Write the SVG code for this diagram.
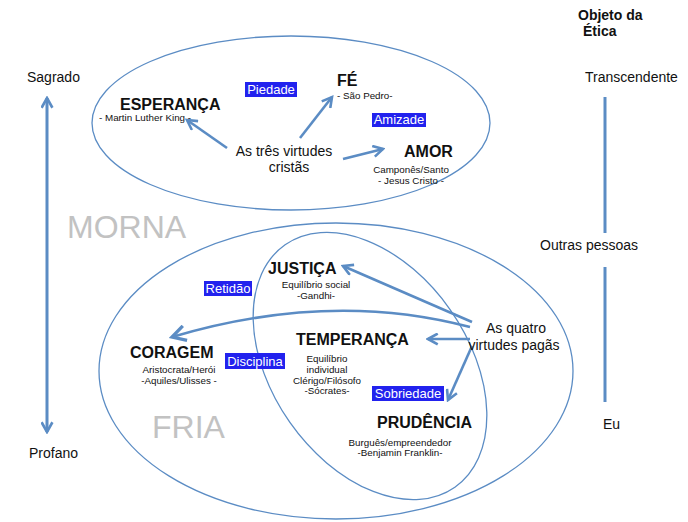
<svg xmlns="http://www.w3.org/2000/svg" width="688" height="522" viewBox="0 0 688 522">
<defs>
<style>
text{font-family:"Liberation Sans",Arial,sans-serif;fill:#111}
.t{font-size:14px}
.h{font-size:16px;font-weight:bold}
.s{font-size:9.8px}
.big{font-size:32px;fill:#c2c2c2}
.lb rect{fill:#2222ee}
.lb text{font-size:13px;fill:#fff}
.ell{fill:none;stroke:#5b8cc4;stroke-width:1.3}
.ar{fill:none;stroke:#5b8cc4;stroke-width:2.6;marker-end:url(#ah)}
.vl{fill:none;stroke:#5b8cc4;stroke-width:3}
</style>
<marker id="ah" viewBox="0 0 12 12" refX="10" refY="6" markerWidth="13" markerHeight="13" markerUnits="userSpaceOnUse" orient="auto">
<path d="M1,1 L10,6 L1,11" fill="none" stroke="#5b8cc4" stroke-width="2.4" stroke-linejoin="miter"/>
</marker>
<marker id="ah2" viewBox="0 0 12 12" refX="10" refY="6" markerWidth="18" markerHeight="18" markerUnits="userSpaceOnUse" orient="auto">
<path d="M1,1 L10,6 L1,11" fill="none" stroke="#5b8cc4" stroke-width="2.2"/>
</marker>
<marker id="ahs" viewBox="0 0 12 12" refX="10" refY="6" markerWidth="13" markerHeight="13" markerUnits="userSpaceOnUse" orient="auto-start-reverse">
<path d="M1,1 L10,6 L1,11" fill="none" stroke="#5b8cc4" stroke-width="2.4"/>
</marker>
</defs>
<rect width="688" height="522" fill="#fff"/>

<g id="shapes">
<ellipse class="ell" cx="291" cy="123" rx="199" ry="87"/>
<ellipse class="ell" cx="336" cy="371" rx="237" ry="148"/>
<ellipse class="ell" cx="370" cy="366" rx="148" ry="98" transform="rotate(55 370 366)"/>
</g>

<g id="connectors">
<line class="ar" x1="227" y1="148" x2="187" y2="120"/>
<line class="ar" x1="300" y1="138" x2="332" y2="97"/>
<line class="ar" x1="343" y1="159" x2="383" y2="149"/>
<line class="ar" x1="472" y1="322" x2="343" y2="266"/>
<path class="ar" d="M470,327 Q330,290 172,337" style="marker-end:url(#ah2)"/>
<line class="ar" x1="470" y1="339" x2="428" y2="339"/>
<line class="ar" x1="472" y1="346" x2="448" y2="400"/>
<line class="vl" x1="47" y1="98" x2="47" y2="432" style="marker-start:url(#ahs);marker-end:url(#ahs)"/>
<line class="vl" x1="605" y1="97" x2="605" y2="233"/>
<line class="vl" x1="605" y1="267" x2="605" y2="402"/>
</g>

<g id="axis">
<text class="t" x="578" y="20" style="font-weight:bold">Objeto da</text>
<text class="t" x="583" y="36" style="font-weight:bold">Ética</text>
<text class="t" x="585" y="82">Transcendente</text>
<text class="t" x="540" y="250">Outras pessoas</text>
<text class="t" x="603" y="429">Eu</text>
<text class="t" x="27" y="82">Sagrado</text>
<text class="t" x="29" y="458">Profano</text>
<text class="big" x="67" y="238">MORNA</text>
<text class="big" x="152" y="438">FRIA</text>
</g>

<g id="esperanca">
<text class="h" x="120" y="110">ESPERANÇA</text>
<text class="s" x="99" y="121">- Martin Luther King -</text>
</g>
<g id="fe">
<text class="h" x="337" y="86">FÉ</text>
<text class="s" x="337" y="99">- São Pedro-</text>
</g>
<g id="amor">
<text class="h" x="404" y="157">AMOR</text>
<text class="s" x="411" y="173" text-anchor="middle">Camponês/Santo</text>
<text class="s" x="411" y="184" text-anchor="middle">- Jesus Cristo -</text>
</g>
<g id="crista">
<text class="t" x="284" y="156" text-anchor="middle">As três virtudes</text>
<text class="t" x="289" y="172" text-anchor="middle">cristãs</text>
</g>
<g id="piedade" class="lb"><rect x="245" y="82" width="52" height="15"/><text x="271" y="94" text-anchor="middle">Piedade</text></g>
<g id="amizade" class="lb"><rect x="372" y="113" width="54" height="14"/><text x="399" y="124" text-anchor="middle">Amizade</text></g>

<g id="justica">
<text class="h" x="268" y="274">JUSTIÇA</text>
<text class="s" x="316" y="288" text-anchor="middle">Equilíbrio social</text>
<text class="s" x="316" y="299" text-anchor="middle">-Gandhi-</text>
</g>
<g id="temperanca">
<text class="h" x="296" y="345">TEMPERANÇA</text>
<text class="s" x="327" y="362" text-anchor="middle">Equilíbrio</text>
<text class="s" x="327" y="373" text-anchor="middle">individual</text>
<text class="s" x="327" y="384" text-anchor="middle">Clérigo/Filósofo</text>
<text class="s" x="327" y="394" text-anchor="middle">-Sócrates-</text>
</g>
<g id="coragem">
<text class="h" x="130" y="358">CORAGEM</text>
<text class="s" x="179" y="373" text-anchor="middle">Aristocrata/Herói</text>
<text class="s" x="179" y="384" text-anchor="middle">-Aquiles/Ulisses -</text>
</g>
<g id="prudencia">
<text class="h" x="377" y="428">PRUDÊNCIA</text>
<text class="s" x="400" y="446" text-anchor="middle">Burguês/empreendedor</text>
<text class="s" x="400" y="456" text-anchor="middle">-Benjamin Franklin-</text>
</g>
<g id="pagas">
<text class="t" x="516" y="333" text-anchor="middle">As quatro</text>
<text class="t" x="514" y="350" text-anchor="middle">virtudes pagãs</text>
</g>
<g id="retidao" class="lb"><rect x="204" y="281" width="48" height="15"/><text x="228" y="293" text-anchor="middle">Retidão</text></g>
<g id="disciplina" class="lb"><rect x="225" y="353" width="60" height="16"/><text x="255" y="366" text-anchor="middle">Disciplina</text></g>
<g id="sobriedade" class="lb"><rect x="372" y="386" width="72" height="15"/><text x="408" y="398" text-anchor="middle">Sobriedade</text></g>
</svg>
